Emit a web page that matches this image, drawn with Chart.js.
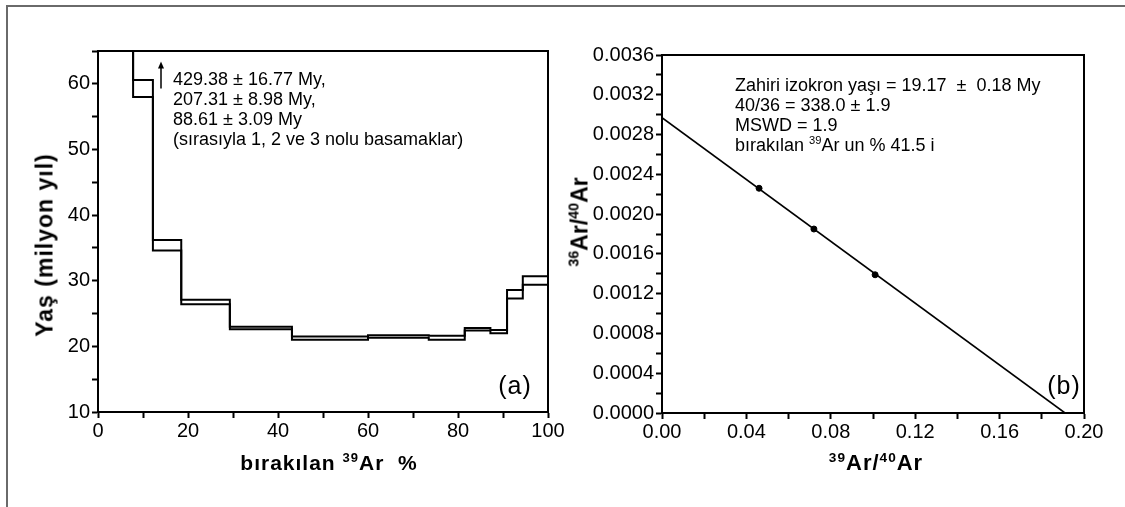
<!DOCTYPE html>
<html>
<head>
<meta charset="utf-8">
<script src="https://cdn.jsdelivr.net/npm/chart.js@4.4.1/dist/chart.umd.min.js"></script>
<style>
  html, body { margin: 0; padding: 0; background: #fff; }
  body { width: 1125px; height: 507px; position: relative; overflow: hidden;
         font-family: "Liberation Sans", Arial, sans-serif; color: #000; }
  canvas { position: absolute; top: 0; }
  #cA { left: 0; }
  #cB { left: 570px; }
  .frame { position: absolute; left: 6px; top: 5px; width: 1130px; height: 510px;
           border-left: 2px solid #6a6a6a; border-top: 2px solid #6a6a6a; }
  .txt { position: absolute; white-space: pre; line-height: 20px; font-size: 18px; }
  .ttl { position: absolute; white-space: nowrap; font-weight: bold; transform: translate(-50%, -50%); }
  .rot { transform: translate(-50%, -50%) rotate(-90deg); }
  .sup { font-size: 0.62em; position: relative; top: -0.6em; }
  .lab { position: absolute; font-size: 25px; letter-spacing: 1px; transform: translate(-50%, -50%); }
</style>
</head>
<body>
<div class="frame"></div>
<canvas id="cA" width="570" height="507"></canvas>
<canvas id="cB" width="555" height="507"></canvas>

<div class="ttl rot" style="left:45px; top:245px; font-size:23px; letter-spacing:1px;">Yaş (milyon yıl)</div>
<div class="ttl" style="left:329px; top:463px; font-size:21px; letter-spacing:1px;">bırakılan <span class="sup">39</span>Ar&nbsp;&nbsp;%</div>
<div class="ttl rot" style="left:580px; top:222px; font-size:23px;"><span class="sup">36</span>Ar/<span class="sup">40</span>Ar</div>
<div class="ttl" style="left:876px; top:463px; font-size:22px; letter-spacing:1px;"><span class="sup">39</span>Ar/<span class="sup">40</span>Ar</div>

<div class="txt" style="left:173px; top:69px;">429.38 ± 16.77 My,
207.31 ± 8.98 My,
88.61 ± 3.09 My
(sırasıyla 1, 2 ve 3 nolu basamaklar)</div>
<div class="txt" style="left:735px; top:75px;">Zahiri izokron yaşı = 19.17  ±  0.18 My
40/36 = 338.0 ± 1.9
MSWD = 1.9
bırakılan <span class="sup">39</span>Ar un % 41.5 i</div>

<div class="lab" style="left:515px; top:385px;">(a)</div>
<div class="lab" style="left:1064px; top:385px;">(b)</div>

<script>
// ---------- Data: age spectrum (a) ----------
const stepEdges = [0, 1.5, 4.0, 7.8, 12.2, 18.5, 29.3, 43.1, 60.0, 73.5, 81.5, 87.2, 90.9, 94.4, 100];
const stepAges  = [429.38, 207.31, 88.61, 59.3, 35.4, 26.75, 22.8, 21.25, 21.5, 21.3, 22.6, 22.25, 27.95, 30.05];
const stepErrs  = [16.77, 8.98, 3.09, 1.3, 0.8, 0.35, 0.2, 0.25, 0.2, 0.3, 0.2, 0.25, 0.65, 0.65];
const arrowX = 14.0;
const arrowY = [59.3, 63.4];
const ageTicksX = [0, 20, 40, 60, 80, 100];
const ageTicksY = [10, 20, 30, 40, 50, 60];

// ---------- Data: isochron (b) ----------
const isoX = [0.046, 0.072, 0.101];
const isoY = [0.00226, 0.00185, 0.00139];
const lineX = [0, 0.191];
const lineY = [0.00297, 0];

const FONT = { family: '"Liberation Sans", Arial, sans-serif', size: 20 };

function envelope(sign) {
  const pts = [];
  for (let i = 0; i < stepAges.length; i++) {
    pts.push({ x: stepEdges[i], y: stepAges[i] + sign * stepErrs[i] });
  }
  pts.push({ x: stepEdges[stepEdges.length - 1], y: stepAges[stepAges.length - 1] + sign * stepErrs[stepErrs.length - 1] });
  return pts;
}

const framePlugin = {
  id: 'frame',
  afterDatasetsDraw(chart) {
    const a = chart.chartArea, ctx = chart.ctx;
    ctx.save();
    ctx.strokeStyle = '#000';
    ctx.lineWidth = 2;
    ctx.beginPath();
    ctx.moveTo(a.left, a.top);
    ctx.lineTo(a.right, a.top);
    ctx.lineTo(a.right, a.bottom);
    ctx.stroke();
    ctx.restore();
  }
};

const arrowPlugin = {
  id: 'arrow',
  afterDatasetsDraw(chart) {
    const xs = chart.scales.x, ys = chart.scales.y, ctx = chart.ctx;
    const px = xs.getPixelForValue(arrowX);
    const y0 = ys.getPixelForValue(arrowY[0]);
    const y1 = ys.getPixelForValue(arrowY[1]);
    ctx.save();
    ctx.strokeStyle = '#000';
    ctx.fillStyle = '#000';
    ctx.lineWidth = 1.5;
    ctx.beginPath();
    ctx.moveTo(px, y0);
    ctx.lineTo(px, y1 + 4);
    ctx.stroke();
    ctx.beginPath();
    ctx.moveTo(px, y1);
    ctx.lineTo(px - 3, y1 + 7);
    ctx.lineTo(px + 3, y1 + 7);
    ctx.closePath();
    ctx.fill();
    ctx.restore();
  }
};

function axisCommon(extra) {
  return Object.assign({
    type: 'linear',
    grid: { drawOnChartArea: false, drawTicks: true, tickLength: 6, tickWidth: 2, tickColor: '#000' },
    border: { display: true, color: '#000', width: 2 },
    title: { display: false }
  }, extra);
}

new Chart(document.getElementById('cA'), {
  type: 'line',
  data: {
    datasets: [
      { data: envelope(1), stepped: 'before', borderColor: '#000', borderWidth: 2, pointRadius: 0, fill: false },
      { data: envelope(-1), stepped: 'before', borderColor: '#000', borderWidth: 2, pointRadius: 0, fill: false }
    ]
  },
  options: {
    responsive: false, animation: false, devicePixelRatio: 1,
    layout: { padding: { left: 0, right: 22, top: 51, bottom: 0 } },
    plugins: { legend: { display: false }, tooltip: { enabled: false } },
    scales: {
      x: axisCommon({
        min: 0, max: 100,
        ticks: { stepSize: 10, autoSkip: false, maxRotation: 0, color: '#000', font: FONT, padding: 1,
                 callback: v => ageTicksX.includes(v) ? String(v) : '' },
        afterFit: s => { s.height = 95; }
      }),
      y: axisCommon({
        min: 10, max: 65,
        ticks: { stepSize: 5, autoSkip: false, color: '#000', font: FONT, padding: 2,
                 callback: v => ageTicksY.includes(v) ? String(v) : '' },
        afterFit: s => { s.width = 98; }
      })
    }
  },
  plugins: [framePlugin, arrowPlugin]
});

new Chart(document.getElementById('cB'), {
  type: 'scatter',
  data: {
    datasets: [
      { type: 'line', data: lineX.map((x, i) => ({ x, y: lineY[i] })), borderColor: '#000', borderWidth: 1.6,
        pointRadius: 0, fill: false },
      { data: isoX.map((x, i) => ({ x, y: isoY[i] })), backgroundColor: '#000', borderColor: '#000',
        pointRadius: 3, pointStyle: 'circle' }
    ]
  },
  options: {
    responsive: false, animation: false, devicePixelRatio: 1,
    layout: { padding: { left: 0, right: 41, top: 55, bottom: 0 } },
    plugins: { legend: { display: false }, tooltip: { enabled: false } },
    scales: {
      x: axisCommon({
        min: 0, max: 0.2,
        ticks: { stepSize: 0.02, autoSkip: false, maxRotation: 0, color: '#000', font: FONT, padding: 1,
                 callback: v => Math.round(v * 100) % 4 === 0 ? v.toFixed(2) : '' },
        afterFit: s => { s.height = 94; }
      }),
      y: axisCommon({
        min: 0, max: 0.0036,
        ticks: { stepSize: 0.0002, autoSkip: false, color: '#000', font: FONT, padding: 2,
                 callback: v => Math.round(v * 10000) % 4 === 0 ? v.toFixed(4) : '' },
        afterFit: s => { s.width = 92; }
      })
    }
  },
  plugins: [framePlugin]
});
</script>
</body>
</html>
